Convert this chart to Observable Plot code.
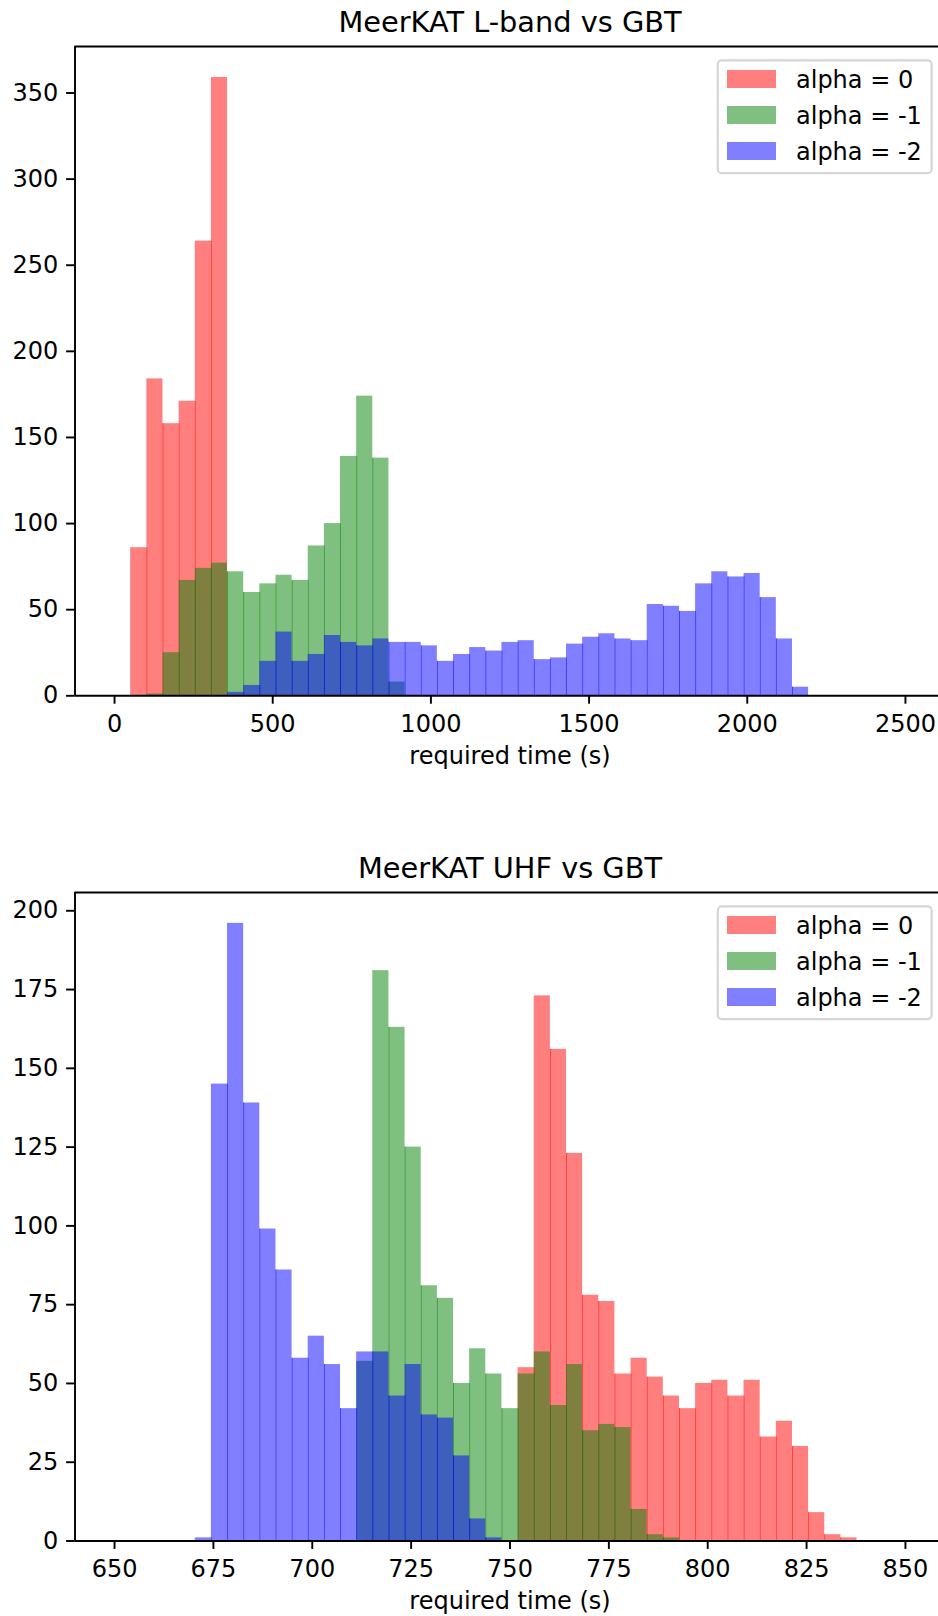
<!DOCTYPE html>
<html>
<head>
<meta charset="utf-8">
<script src="https://cdn.jsdelivr.net/npm/d3@7"></script>
<script src="https://cdn.jsdelivr.net/npm/@observablehq/plot@0.6"></script>
<style>
html, body { margin: 0; padding: 0; background: #fff; }
#chart { width: 938px; height: 1616px; }
#chart svg { display: block; }
</style>
</head>
<body>
<div id="chart"></div>
<script>
// ---- series ----
const seriesNames = ["alpha = 0", "alpha = -1", "alpha = -2"];
const seriesColors = ["#ff0000", "#008000", "#0000ff"];

// ---- MeerKAT L-band vs GBT: 49 equal bins between 0 and 2500 s ----
const lbandTitle = "MeerKAT L-band vs GBT";
const lbandRange = [0, 2500];
const lbandRed = [0, 86, 184, 158, 171, 264, 359,
  0, 0, 0, 0, 0, 0, 0, 0, 0, 0,
  0, 0, 0, 0, 0, 0, 0, 0, 0, 0,
  0, 0, 0, 0, 0, 0, 0, 0, 0, 0,
  0, 0, 0, 0, 0, 0, 0, 0, 0, 0,
  0, 0];
const lbandGreen = [0, 0, 1, 25, 67, 74, 77, 72, 60, 65,
  70, 67, 87, 100, 139, 174, 138, 8,
  0, 0, 0, 0, 0, 0, 0, 0, 0, 0,
  0, 0, 0, 0, 0, 0, 0, 0, 0, 0,
  0, 0, 0, 0, 0, 0, 0, 0, 0, 0,
  0];
const lbandBlue = [0, 0, 0, 0, 0, 0, 0,
  2, 6, 20, 37, 20, 24, 35, 31, 29, 33,
  31, 31, 29, 20, 24, 28, 26, 31, 32, 21,
  22, 30, 34, 36, 33, 32, 53, 52, 49, 65,
  72, 69, 71, 57, 33, 5,
  0, 0, 0, 0, 0, 0];
const lbandXDomain = [-125, 2604.5];
const lbandYDomain = [0, 377];
const lbandXTicks = [0, 500, 1000, 1500, 2000, 2500];
const lbandYTicks = [0, 50, 100, 150, 200, 250, 300, 350];

// ---- MeerKAT UHF vs GBT: 49 equal bins between 650 and 850 s ----
const uhfTitle = "MeerKAT UHF vs GBT";
const uhfRange = [650, 850];
const uhfRed = [0, 0, 0, 0, 0, 0, 0, 0, 0, 0,
  0, 0, 0, 0, 0, 0, 0, 0, 0, 0,
  0, 0, 0, 0, 0,
  55, 173, 156, 123, 78, 76, 53, 58, 52, 46,
  42, 50, 51, 46, 51, 33, 38, 30, 9, 2,
  1, 0, 0, 0];
const uhfGreen = [0, 0, 0, 0, 0, 0, 0, 0, 0, 0,
  0, 0, 0, 0, 0,
  57, 181, 163, 125, 81, 77, 50, 61, 53, 42,
  53, 60, 43, 56, 35, 37, 36, 10, 2, 1,
  0, 0, 0, 0, 0, 0, 0, 0, 0, 0, 0, 0, 0, 0];
const uhfBlue = [0, 0, 0, 0, 0,
  1, 145, 196, 139, 99, 86, 58, 65, 56, 42,
  60, 60, 46, 56, 40, 39, 27, 7, 1,
  0, 0, 0, 0, 0, 0, 0, 0, 0, 0,
  0, 0, 0, 0, 0, 0, 0, 0, 0, 0,
  0, 0, 0, 0, 0];
const uhfXDomain = [640, 858.36];
const uhfYDomain = [0, 205.8];
const uhfXTicks = [650, 675, 700, 725, 750, 775, 800, 825, 850];
const uhfYTicks = [0, 25, 50, 75, 100, 125, 150, 175, 200];

const xLabel = "required time (s)";

function panel(cfg) {
  const {title, range, counts, xDomain, yDomain, xTicks, yTicks, marginTop, marginBottom} = cfg;
  const n = counts[0].length;
  const w = (range[1] - range[0]) / n;
  const marks = [];
  counts.forEach((c, s) => {
    const bars = [], edges = [];
    c.forEach((v, i) => {
      if (v > 0) bars.push({series: seriesNames[s], x1: range[0] + i * w, x2: range[0] + (i + 1) * w, count: v});
      if (i > 0 && v > 0 && c[i - 1] > 0) edges.push({series: seriesNames[s], x: range[0] + i * w, top: Math.min(v, c[i - 1])});
    });
    marks.push(Plot.rectY(bars, {x1: "x1", x2: "x2", y: "count", fill: "series", fillOpacity: 0.5}));
    marks.push(Plot.ruleX(edges, {x: "x", y1: 0, y2: "top", stroke: "series", strokeOpacity: 0.5, strokeWidth: 1}));
  });
  marks.push(
    Plot.axisX({ticks: xTicks, tickSize: 8.4, tickPadding: 10.6, strokeWidth: 1.92, fontSize: 24, label: null, tickFormat: d => String(d)}),
    Plot.axisY({ticks: yTicks, tickSize: 8.4, tickPadding: 8.4, strokeWidth: 1.92, fontSize: 24, label: null, tickFormat: d => String(d)}),
    Plot.ruleY([yDomain[0]], {stroke: "#000", strokeWidth: 1.92}),
    Plot.ruleY([yDomain[1]], {stroke: "#000", strokeWidth: 1.92}),
    Plot.ruleX([xDomain[0]], {stroke: "#000", strokeWidth: 1.92}),
    Plot.text([title], {text: d => d, frameAnchor: "top", lineAnchor: "bottom", dy: -14.4, dx: 3.25, fontSize: 28.8, fill: "#000"}),
    Plot.text([xLabel], {text: d => d, frameAnchor: "bottom", lineAnchor: "bottom", dy: 67.8, dx: 3.25, fontSize: 24, fill: "#000"})
  );
  const svg = Plot.plot({
    width: 938,
    height: 808,
    marginLeft: 74.5,
    marginRight: 0,
    marginTop,
    marginBottom,
    x: {domain: xDomain},
    y: {domain: yDomain},
    color: {domain: seriesNames, range: seriesColors},
    style: {fontFamily: "'DejaVu Sans', sans-serif", fontSize: "24px", background: "#fff", color: "#000", overflow: "visible"},
    marks
  });
  // legend (upper right, matplotlib style)
  const g = d3.select(svg).append("g")
    .attr("font-family", "'DejaVu Sans', sans-serif")
    .attr("text-anchor", "start");
  g.append("rect")
    .attr("x", 717.8).attr("y", marginTop + 14.4)
    .attr("width", 213.8).attr("height", 112.8)
    .attr("rx", 4).attr("ry", 4)
    .attr("fill", "#fff").attr("fill-opacity", 0.8)
    .attr("stroke", "#d6d6d6").attr("stroke-width", 2.2);
  seriesNames.forEach((name, i) => {
    g.append("rect")
      .attr("x", 727).attr("y", marginTop + 24 + 36 * i)
      .attr("width", 49).attr("height", 18)
      .attr("fill", seriesColors[i]).attr("fill-opacity", 0.5);
    g.append("text")
      .attr("x", 796).attr("y", marginTop + 42.3 + 36 * i)
      .attr("font-size", 24).attr("fill", "#000")
      .attr("text-anchor", "start")
      .text(name);
  });
  return svg;
}

const chart = document.getElementById("chart");
chart.appendChild(panel({
  title: lbandTitle, range: lbandRange, counts: [lbandRed, lbandGreen, lbandBlue],
  xDomain: lbandXDomain, yDomain: lbandYDomain, xTicks: lbandXTicks, yTicks: lbandYTicks,
  marginTop: 46, marginBottom: 112.7
}));
chart.appendChild(panel({
  title: uhfTitle, range: uhfRange, counts: [uhfRed, uhfGreen, uhfBlue],
  xDomain: uhfXDomain, yDomain: uhfYDomain, xTicks: uhfXTicks, yTicks: uhfYTicks,
  marginTop: 84, marginBottom: 75.5
}));
</script>
</body>
</html>
